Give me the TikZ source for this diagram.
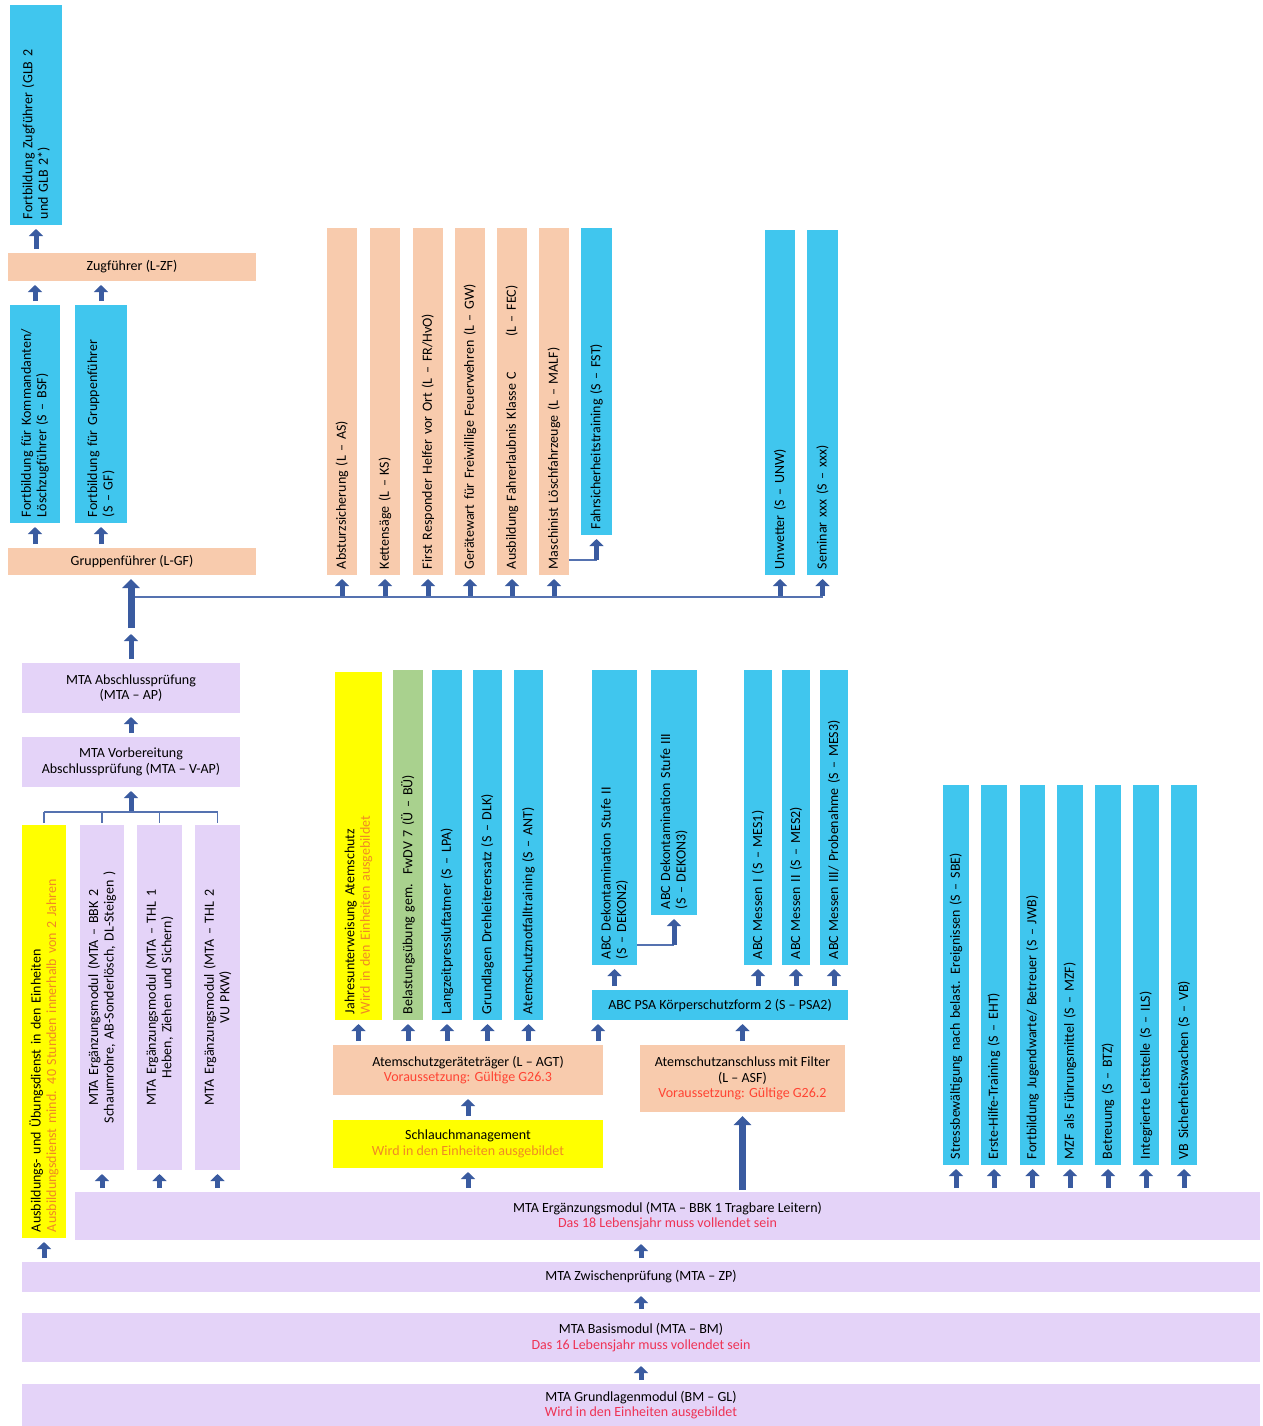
\documentclass[tikz,border=0pt]{standalone}
\usepackage{fontspec}
\setmainfont{Carlito}
\usetikzlibrary{arrows.meta,calc}
\definecolor{cyanb}{HTML}{40C6EE}
\definecolor{peach}{HTML}{F8CBAD}
\definecolor{lav}{HTML}{E4D3F8}
\definecolor{yel}{HTML}{FFFF00}
\definecolor{grn}{HTML}{A9D18E}
\definecolor{arrowc}{HTML}{3A5BA0}
\definecolor{connc}{HTML}{5572B0}
\definecolor{redt}{HTML}{EE3355}
\definecolor{oranget}{HTML}{F08A24}
\definecolor{vorr}{HTML}{FF4433}
\tikzset{
 base/.style={inner sep=0pt, outer sep=0pt, font=\fontsize{14}{15.5}\selectfont},
 vc/.style={base, rotate=90},
 hc/.style={base, align=center},
 blk/.style={draw=arrowc, line width=5pt, -{Triangle[width=14pt,length=7pt]}, shorten <=4pt, shorten >=4pt},
 bigblk/.style={draw=arrowc, line width=7pt, -{Triangle[width=17pt,length=9pt]}, shorten <=2pt, shorten >=4pt},
 conn/.style={draw=connc, line width=1.4pt},
}
\newcommand{\vcol}[8]{%
 \pgfmathsetmacro{\myCX}{(#4+#6)/2}%
 \pgfmathsetmacro{\myCY}{(#5+#7)/2}%
 \pgfmathsetmacro{\myBW}{#7-#5}%
 \pgfmathsetmacro{\myBH}{#6-#4}%
 \pgfmathsetmacro{\myTW}{#7-#5-12}%
 \node[vc, fill=#2, align=#3, minimum width=\myBW pt, minimum height=\myBH pt, text width=\myTW pt] (#1) at (\myCX,\myCY) {#8};}
\newcommand{\hbx}[7]{%
 \pgfmathsetmacro{\myCX}{(#3+#5)/2}%
 \pgfmathsetmacro{\myCY}{(#4+#6)/2}%
 \pgfmathsetmacro{\myBW}{#5-#3}%
 \pgfmathsetmacro{\myBH}{#6-#4}%
 \node[hc, fill=#2, minimum width=\myBW pt, minimum height=\myBH pt] (#1) at (\myCX,\myCY) {#7};}
\begin{document}
\begin{tikzpicture}[x=1pt,y=-1pt]
\useasboundingbox (0,0) rectangle (1262,1426);
\fill[white] (0,0) rectangle (1262,1426);
% ---------- top left
\vcol{FZF}{cyanb}{left}{10}{5}{62}{225}{Fortbildung Zugführer (GLB 2\\und GLB 2*)}
\hbx{ZF}{peach}{8}{253}{256}{281}{Zugführer (L-ZF)}
\vcol{BSF}{cyanb}{left}{10}{305}{60}{523}{Fortbildung für Kommandanten/\\Löschzugführer (S – BSF)}
\vcol{SGF}{cyanb}{left}{75}{305}{127}{523}{Fortbildung für Gruppenführer\\(S – GF)}
\hbx{GF}{peach}{8}{548}{256}{575}{Gruppenführer (L-GF)}
% ---------- top middle
\vcol{AS}{peach}{left}{327}{228}{357}{575}{Absturzsicherung (L – AS)}
\vcol{KS}{peach}{left}{370}{228}{400}{575}{Kettensäge (L – KS)}
\vcol{FR}{peach}{left}{413}{228}{443}{575}{First Responder Helfer vor Ort (L – FR/HvO)}
\vcol{GW}{peach}{left}{455}{228}{485}{575}{Gerätewart für Freiwillige Feuerwehren (L – GW)}
\vcol{FEC}{peach}{left}{497}{228}{527}{575}{Ausbildung Fahrerlaubnis Klasse C\hspace{2.5em}(L – FEC)}
\vcol{MALF}{peach}{left}{539}{228}{569}{575}{Maschinist Löschfahrzeuge (L – MALF)}
\vcol{FST}{cyanb}{left}{581}{228}{612}{535}{Fahrsicherheitstraining (S – FST)}
\vcol{UNW}{cyanb}{left}{765}{230}{795}{575}{Unwetter (S – UNW)}
\vcol{SXX}{cyanb}{left}{807}{230}{838}{575}{Seminar xxx (S – xxx)}
% ---------- left MTA
\hbx{AP}{lav}{22}{663}{240}{713}{MTA Abschlussprüfung\\(MTA – AP)}
\hbx{VAP}{lav}{22}{737}{240}{787}{MTA Vorbereitung\\Abschlussprüfung (MTA – V-AP)}
\vcol{YEL}{yel}{left}{22}{825}{66}{1238}{Ausbildungs- und Übungsdienst in den Einheiten\\{\color{oranget}Ausbildungsdienst mind. 40 Stunden innerhalb von 2 Jahren}}
\vcol{BBK2}{lav}{center}{80}{825}{124}{1170}{MTA Ergänzungsmodul (MTA – BBK 2\\Schaumrohre, AB-Sonderlösch, DL-Steigen )}
\vcol{THL1}{lav}{center}{137}{825}{182}{1170}{MTA Ergänzungsmodul (MTA – THL 1\\Heben, Ziehen und Sichern)}
\vcol{THL2}{lav}{center}{195}{825}{240}{1170}{MTA Ergänzungsmodul (MTA – THL 2\\VU PKW)}
% ---------- middle
\vcol{JUA}{yel}{left}{335}{672}{382}{1020}{Jahresunterweisung Atemschutz\\{\color{oranget}Wird in den Einheiten ausgebildet}}
\vcol{BUE}{grn}{left}{393}{670}{423}{1020}{Belastungsübung gem.\ \ FwDV 7 (Ü – BÜ)}
\vcol{LPA}{cyanb}{left}{432}{670}{462}{1020}{Langzeitpressluftatmer (S – LPA)}
\vcol{DLK}{cyanb}{left}{473}{670}{502}{1020}{Grundlagen Drehleiterersatz (S – DLK)}
\vcol{ANT}{cyanb}{left}{514}{670}{543}{1020}{Atemschutznotfalltraining (S – ANT)}
\hbx{AGT}{peach}{333}{1045}{603}{1095}{Atemschutzgeräteträger (L – AGT)\\{\color{vorr}Voraussetzung: Gültige G26.3}}
\hbx{SM}{yel}{333}{1120}{603}{1168}{Schlauchmanagement\\{\color{oranget}Wird in den Einheiten ausgebildet}}
% ---------- ABC
\vcol{DEK2}{cyanb}{left}{592}{670}{637}{965}{ABC Dekontamination Stufe II\\(S – DEKON2)}
\vcol{DEK3}{cyanb}{left}{651}{670}{697}{915}{ABC Dekontamination Stufe III\\(S – DEKON3)}
\vcol{MES1}{cyanb}{left}{744}{670}{772}{965}{ABC Messen I (S – MES1)}
\vcol{MES2}{cyanb}{left}{782}{670}{810}{965}{ABC Messen II (S – MES2)}
\vcol{MES3}{cyanb}{left}{820}{670}{848}{965}{ABC Messen III/ Probenahme (S – MES3)}
\hbx{PSA}{cyanb}{592}{990}{848}{1020}{ABC PSA Körperschutzform 2 (S – PSA2)}
\hbx{ASF}{peach}{640}{1045}{845}{1112}{Atemschutzanschluss mit Filter\\(L – ASF)\\{\color{vorr}Voraussetzung: Gültige G26.2}}
% ---------- right
\vcol{RA}{cyanb}{left}{943}{785}{969}{1165}{Stressbewältigung nach belast. Ereignissen (S – SBE)}
\vcol{RB}{cyanb}{left}{981}{785}{1007}{1165}{Erste-Hilfe-Training (S – EHT)}
\vcol{RC}{cyanb}{left}{1020}{785}{1045}{1165}{Fortbildung Jugendwarte/ Betreuer (S – JWB)}
\vcol{RD}{cyanb}{left}{1057}{785}{1083}{1165}{MZF als Führungsmittel (S – MZF)}
\vcol{RE}{cyanb}{left}{1095}{785}{1121}{1165}{Betreuung (S – BTZ)}
\vcol{RF}{cyanb}{left}{1133}{785}{1159}{1165}{Integrierte Leitstelle (S – ILS)}
\vcol{RG}{cyanb}{left}{1171}{785}{1197}{1165}{VB Sicherheitswachen (S – VB)}
% ---------- bottom
\hbx{BBK1}{lav}{75}{1192}{1260}{1240}{MTA Ergänzungsmodul (MTA – BBK 1 Tragbare Leitern)\\{\color{redt}Das 18 Lebensjahr muss vollendet sein}}
\hbx{ZP}{lav}{22}{1262}{1260}{1292}{MTA Zwischenprüfung (MTA – ZP)}
\hbx{BM}{lav}{22}{1313}{1260}{1362}{MTA Basismodul (MTA – BM)\\{\color{redt}Das 16 Lebensjahr muss vollendet sein}}
\hbx{GL}{lav}{22}{1384}{1260}{1426}{MTA Grundlagenmodul (BM – GL)\\{\color{redt}Wird in den Einheiten ausgebildet}}
% ========== connectors
\draw[blk] (FZF.west |- ZF.north) -- (FZF.west);
\draw[blk] (BSF.east) -- (BSF.east |- ZF.south);
\draw[blk] (SGF.east) -- (SGF.east |- ZF.south);
\draw[blk] (BSF.west |- GF.north) -- (BSF.west);
\draw[blk] (SGF.west |- GF.north) -- (SGF.west);
\coordinate (hub) at (131,630);
\coordinate (bus) at (131,597);
\draw[conn] (bus) -- (SXX.west |- bus);
\draw[bigblk] (hub) -- (hub |- GF.south);
\draw[blk] (AP.north) -- (hub);
\foreach \n in {AS,KS,FR,GW,FEC,MALF,UNW,SXX} \draw[blk, shorten <=1pt] (\n.west |- bus) -- (\n.west);
\coordinate (fj) at (FST.center |- 0,560);
\draw[conn] (MALF.south |- fj) -- (fj);
\draw[blk, shorten <=0pt] (fj) -- (FST.west);
\draw[blk] (VAP.north) -- (AP.south);
\coordinate (brk) at (131,812);
\draw[conn] (YEL.center |- brk) -- (THL2.center |- brk);
\foreach \n in {YEL,BBK2,THL1,THL2} \draw[conn, shorten >=2pt] (\n.center |- brk) -- (\n.east);
\draw[blk, shorten <=1pt] (brk) -- (VAP.south);
\foreach \n in {BBK2,THL1,THL2} \draw[blk] (\n.west |- BBK1.north) -- (\n.west);
\draw[blk] (YEL.west |- ZP.north) -- (YEL.west);
\draw[blk] (ZP.north) -- (ZP.north |- BBK1.south);
\draw[blk] (BM.north) -- (BM.north |- ZP.south);
\draw[blk] (GL.north) -- (GL.north |- BM.south);
\draw[blk] (SM.south |- BBK1.north) -- (SM.south);
\draw[blk] (SM.north) -- (AGT.south);
\foreach \n in {JUA,BUE,LPA,DLK,ANT} \draw[blk] (\n.west |- AGT.north) -- (\n.west);
\coordinate (pa) at ($(AGT.north east)+(-5,0)$);
\draw[blk] (pa) -- (pa |- PSA.south);
\draw[blk] (ASF.north) -- (ASF.north |- PSA.south);
\draw[bigblk] (ASF.south |- BBK1.north) -- (ASF.south);
\foreach \n in {DEK2,MES1,MES2,MES3} \draw[blk] (\n.west |- PSA.north) -- (\n.west);
\coordinate (dj) at (DEK3.center |- 0,945);
\draw[conn] (DEK2.south |- dj) -- (dj);
\draw[blk, shorten <=0pt] (dj) -- (DEK3.west);
\foreach \n in {RA,RB,RC,RD,RE,RF,RG} \draw[blk] (\n.west |- BBK1.north) -- (\n.west);
\end{tikzpicture}
\end{document}
